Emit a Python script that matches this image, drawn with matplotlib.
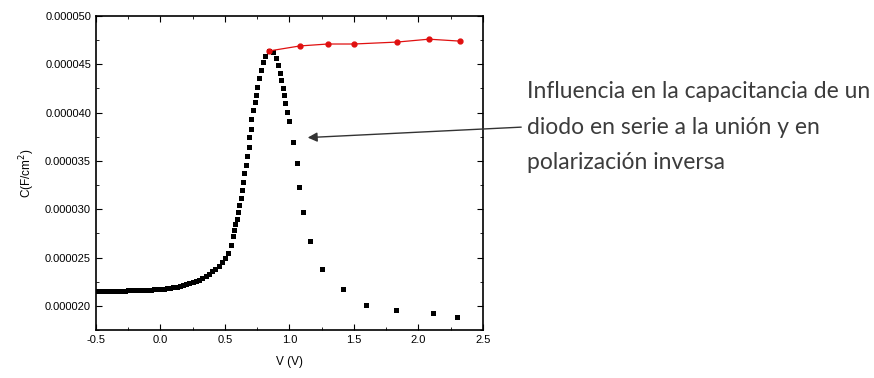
import numpy as np
import matplotlib.pyplot as plt
from matplotlib.ticker import MultipleLocator, FormatStrFormatter

# C-V curve of the junction (capacitance in uF/cm^2 units, scaled below)
v_black = [-0.500, -0.475, -0.450, -0.425, -0.400, -0.375, -0.350, -0.325, -0.300, -0.275,
           -0.250, -0.225, -0.200, -0.175, -0.150, -0.125, -0.100, -0.075, -0.050, -0.025,
           0.000, 0.025, 0.050, 0.075, 0.100, 0.125, 0.150, 0.175, 0.200, 0.225,
           0.250, 0.275, 0.300, 0.325, 0.350, 0.375, 0.400, 0.425, 0.450, 0.475,
           0.500, 0.525, 0.545, 0.560, 0.570, 0.580, 0.590,
           0.603, 0.611, 0.622, 0.629, 0.642, 0.650, 0.663, 0.668, 0.686, 0.688,
           0.699, 0.704, 0.715, 0.730, 0.740, 0.750, 0.764, 0.779, 0.797, 0.814, 0.843,
           0.872, 0.895, 0.911, 0.926, 0.938, 0.952, 0.957, 0.965, 0.978, 0.998,
           1.029, 1.056, 1.074, 1.107, 1.159, 1.252, 1.412, 1.593, 1.826, 2.115, 2.298]
c_black = [21.56, 21.56, 21.56, 21.56, 21.56, 21.57, 21.57, 21.57, 21.58, 21.58,
           21.59, 21.60, 21.61, 21.62, 21.63, 21.65, 21.66, 21.68, 21.70, 21.72,
           21.74, 21.77, 21.81, 21.85, 21.90, 21.97, 22.05, 22.15, 22.26, 22.36,
           22.47, 22.58, 22.70, 22.88, 23.08, 23.32, 23.60, 23.85, 24.12, 24.50,
           24.95, 25.50, 26.30, 27.20, 27.90, 28.50, 29.00,
           29.74, 30.43, 31.13, 31.99, 32.85, 33.72, 34.58, 35.54, 36.47, 37.44,
           38.33, 39.31, 40.27, 41.13, 41.82, 42.68, 43.58, 44.41, 45.24, 45.86, 46.41,
           46.27, 45.65, 44.93, 44.07, 43.37, 42.52, 41.82, 40.96, 40.09, 39.16,
           36.99, 34.81, 32.33, 29.68, 26.68, 23.78, 21.74, 20.11, 19.60, 19.25, 18.87]

# series diode, reverse bias
v_red = [0.841, 1.081, 1.298, 1.500, 1.833, 2.081, 2.320]
c_red = [46.38, 46.90, 47.10, 47.10, 47.30, 47.60, 47.40]

xticks = [-0.5, 0.0, 0.5, 1.0, 1.5, 2.0, 2.5]
note = "Influencia en la capacitancia de un\ndiodo en serie a la unión y en\npolarización inversa"

plt.rcParams['font.family'] = ['Liberation Sans', 'DejaVu Sans']

fig = plt.figure(figsize=(8.74, 3.78), dpi=100)
ax = fig.add_axes([0.1098, 0.127, 0.4428, 0.8307])

ax.plot(v_black, np.array(c_black) * 1e-6, 's', color='black', markersize=3.6, markeredgewidth=0)
ax.plot(v_red, np.array(c_red) * 1e-6, '-o', color='#e01010', lw=0.9, markersize=3.5)

ax.set_xlim(-0.5, 2.5)
ax.set_ylim(17.5e-6, 50e-6)
ax.set_xticks(xticks)
ax.xaxis.set_minor_locator(MultipleLocator(0.25))
ax.yaxis.set_major_locator(MultipleLocator(5e-6))
ax.yaxis.set_minor_locator(MultipleLocator(2.5e-6))
ax.yaxis.set_major_formatter(FormatStrFormatter('%.6f'))
ax.xaxis.set_major_formatter(FormatStrFormatter('%.1f'))
ax.tick_params(which='both', direction='in', top=True, right=True, labelsize=8)
ax.tick_params(which='major', length=4)
ax.tick_params(which='minor', length=2.5)
for s in ax.spines.values():
    s.set_linewidth(1.2)

ax.set_xlabel("V (V)", fontsize=8.5, labelpad=8)
ax.set_ylabel("C(F/cm$^2$)", fontsize=8.5, labelpad=6)

fig.text(527 / 874, 1 - 127 / 378, note, fontsize=16.5, color='#3c3c3c', family=['Lato', 'DejaVu Sans'],
         va='center', ha='left', linespacing=1.85)

ax.annotate("", xy=(1.12, 37.4e-6), xytext=(524 / 874, 1 - 127 / 378), textcoords='figure fraction',
            arrowprops=dict(arrowstyle='-|>', color='#333333', lw=1.0, mutation_scale=14),
            annotation_clip=False)

fig.savefig("out.png", dpi=100)
